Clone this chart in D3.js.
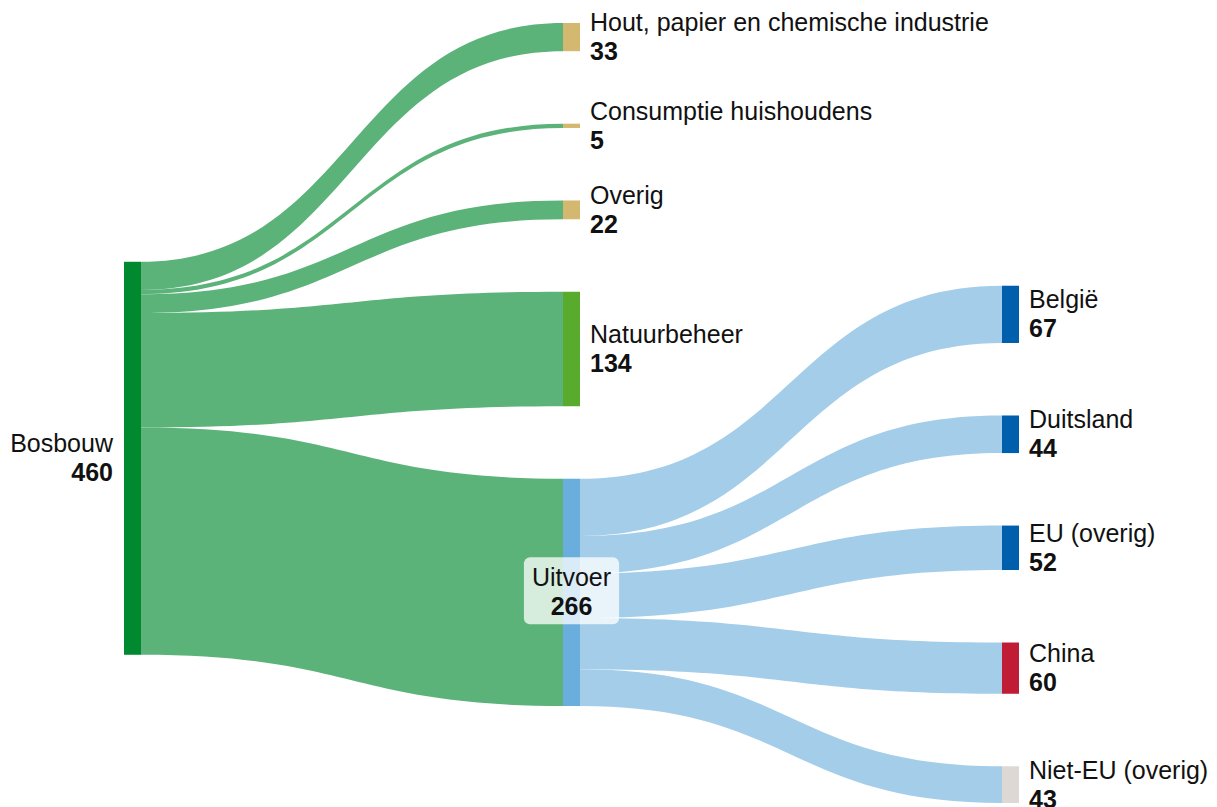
<!DOCTYPE HTML>
<html lang="nl">
	<head>
		<title>Bosbouw</title>
		<meta charset="utf-8">
		<style type="text/css">
			body { background-color: #ffffff; margin: 0px; overflow: hidden; font-family: "Liberation Sans", Arial, Helvetica, sans-serif; }
			text { font-size: 25px; fill: #111111; }
			.value { font-weight: bold; }
		</style>
	</head>
	<body>
		<div id="chart"></div>
		<script src="https://cdn.jsdelivr.net/npm/d3@7/dist/d3.min.js"></script>
		<script type="text/javascript">

			// nodes
			var nodeNames = ["Bosbouw", "Hout, papier en chemische industrie", "Consumptie huishoudens", "Overig",
				"Natuurbeheer", "Uitvoer", "België", "Duitsland", "EU (overig)", "China", "Niet-EU (overig)"];
			var nodeColumns = [0, 1, 1, 1, 1, 1, 2, 2, 2, 2, 2];
			var nodeColors = ["#00892f", "#d4b870", "#d4b870", "#d4b870", "#58ab2c", "#6aaedd",
				"#005fad", "#005fad", "#005fad", "#c11c36", "#ddd8d3"];

			// links
			var linkSources = [0, 0, 0, 0, 0, 5, 5, 5, 5, 5];
			var linkTargets = [1, 2, 3, 4, 5, 6, 7, 8, 9, 10];
			var linkValues = [33, 5, 22, 134, 266, 67, 44, 52, 60, 43];
			var linkColors = ["#5bb37a", "#5bb37a", "#5bb37a", "#5bb37a", "#5bb37a",
				"#a3cde9", "#a3cde9", "#a3cde9", "#a3cde9", "#a3cde9"];

			var width = 1217, height = 807;
			var marginTop = 23, marginBottom = 803, nodeWidth = 17, gap = 72.5;

			var nodes = nodeNames.map(function(d, i) {
				return {name: d, col: nodeColumns[i], color: nodeColors[i], inLinks: [], outLinks: []};
			});
			var links = linkValues.map(function(v, i) {
				var l = {source: nodes[linkSources[i]], target: nodes[linkTargets[i]], value: v, color: linkColors[i]};
				l.source.outLinks.push(l);
				l.target.inLinks.push(l);
				return l;
			});
			nodes.forEach(function(n) {
				n.value = Math.max(d3.sum(n.inLinks, function(l) { return l.value; }),
				                   d3.sum(n.outLinks, function(l) { return l.value; }));
			});

			var maxValue = d3.max(nodes, function(n) { return n.value; });
			var y = d3.scaleLinear().domain([0, maxValue]).range([0, 393]);
			var x = d3.scaleLinear().domain([0, 2]).range([124, 1002]);

			// column 1 from the top, column 2 from the bottom
			var acc = marginTop;
			nodes.filter(function(n) { return n.col == 1; }).forEach(function(n) {
				n.y0 = acc; n.y1 = acc + y(n.value); acc = n.y1 + gap;
			});
			var col2 = nodes.filter(function(n) { return n.col == 2; });
			acc = marginBottom - d3.sum(col2, function(n) { return y(n.value); }) - gap * (col2.length - 1);
			col2.forEach(function(n) {
				n.y0 = acc; n.y1 = acc + y(n.value); acc = n.y1 + gap;
			});
			// column 0 centred on its targets
			nodes.filter(function(n) { return n.col == 0; }).forEach(function(n) {
				var c = d3.sum(n.outLinks, function(l) { return l.value * (l.target.y0 + l.target.y1) / 2; }) / n.value;
				n.y0 = c - y(n.value) / 2; n.y1 = c + y(n.value) / 2;
			});
			nodes.forEach(function(n) {
				n.x0 = x(n.col); n.x1 = n.x0 + nodeWidth;
				var s = n.y0;
				n.outLinks.forEach(function(l) { l.sy0 = s; s += y(l.value); l.sy1 = s; });
				var t = n.y0;
				n.inLinks.forEach(function(l) { l.ty0 = t; t += y(l.value); l.ty1 = t; });
			});

			function linkPath(l) {
				var x0 = l.source.x1, x1 = l.target.x0, xm = (x0 + x1) / 2;
				var p = d3.path();
				p.moveTo(x0, l.sy0);
				p.bezierCurveTo(xm, l.sy0, xm, l.ty0, x1, l.ty0);
				p.lineTo(x1, l.ty1);
				p.bezierCurveTo(xm, l.ty1, xm, l.sy1, x0, l.sy1);
				p.closePath();
				return p.toString();
			}

			var svg = d3.select("#chart").append("svg")
				.attr("width", width)
				.attr("height", height);

			svg.append("g").selectAll("path")
				.data(links)
				.enter().append("path")
				.attr("d", linkPath)
				.style("fill", function(d) { return d.color; });

			svg.append("g").selectAll("rect")
				.data(nodes)
				.enter().append("rect")
				.attr("x", function(d) { return d.x0; })
				.attr("y", function(d) { return d.y0; })
				.attr("width", nodeWidth)
				.attr("height", function(d) { return Math.max(1, d.y1 - d.y0); })
				.style("fill", function(d) { return d.color; });

			var labels = svg.append("g").selectAll("g")
				.data(nodes)
				.enter().append("g")
				.attr("transform", function(d) {
					var cy = (d.y0 + d.y1) / 2, lx;
					if (d.col == 0) lx = d.x0 - 11;
					else if (d.outLinks.length) lx = (d.x0 + d.x1) / 2;
					else lx = d.x1 + 10;
					return "translate(" + lx + "," + cy + ")";
				});

			labels.each(function(d) {
				var g = d3.select(this);
				var anchor = d.col == 0 ? "end" : (d.outLinks.length ? "middle" : "start");
				var t = g.append("text").attr("text-anchor", anchor);
				t.append("tspan").attr("x", 0).attr("y", -6).text(d.name);
				t.append("tspan").attr("class", "value").attr("x", 0).attr("y", 23).text(d.value);
				if (d.col == 1 && d.outLinks.length) {
					var b = t.node().getBBox();
					g.insert("rect", "text")
						.attr("x", b.x - 8)
						.attr("y", b.y - 6)
						.attr("width", b.width + 16)
						.attr("height", b.height + 10)
						.attr("rx", 6)
						.style("fill", "white")
						.style("fill-opacity", 0.75);
				}
			});

		</script>
	</body>
</html>
